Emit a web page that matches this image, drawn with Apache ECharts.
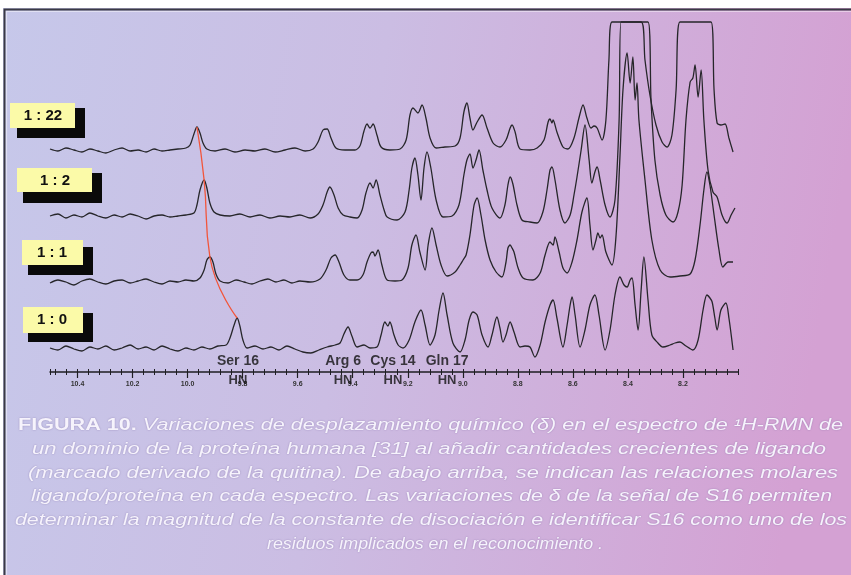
<!DOCTYPE html>
<html><head><meta charset="utf-8">
<script src="https://cdn.jsdelivr.net/npm/echarts@6/dist/echarts.min.js"></script>
<style>html,body{margin:0;padding:0;background:#fff}#c{width:851px;height:575px}</style>
</head><body><div id="c"></div><script>
// ---------- DATA ----------
const ratioLabels = ['1 : 22', '1 : 2', '1 : 1', '1 : 0'];
const baselineOffsets = [222, 156, 91, 24];          // vertical stacking of the spectra
const residues = ['Ser 16', 'Arg 6', 'Cys 14', 'Gln 17'];
const residuePpm = [9.817, 9.435, 9.254, 9.057];
const serPeakPpm = [9.966, 9.940, 9.919, 9.820];
const serPeakHeight = [23, 36, 24, 30];

// [ppm, intensity above own baseline]
const spec_1_22 = [[10.500,1],[10.471,-1],[10.442,2],[10.413,0],[10.384,-2],[10.355,1],[10.326,-1],[10.297,-3],[10.267,0],[10.238,2],[10.209,-1],[10.180,0],[10.151,-2],[10.122,1],[10.093,-1],[10.064,0],[10.035,1],[10.006,2],[9.991,5],[9.977,16],[9.966,23],[9.955,17],[9.944,7],[9.930,1],[9.900,-1],[9.864,1],[9.828,-2],[9.791,0],[9.755,-1],[9.719,1],[9.682,-2],[9.646,0],[9.610,2],[9.573,-1],[9.544,1],[9.526,8],[9.508,20],[9.493,21],[9.479,12],[9.461,2],[9.428,0],[9.392,0],[9.374,4],[9.359,19],[9.348,26],[9.337,22],[9.326,26],[9.312,15],[9.297,3],[9.265,0],[9.228,1],[9.206,10],[9.192,35],[9.181,42],[9.163,37],[9.148,45],[9.134,32],[9.119,12],[9.097,2],[9.065,3],[9.028,4],[9.010,12],[8.996,38],[8.985,47],[8.974,32],[8.963,20],[8.948,28],[8.930,35],[8.912,22],[8.890,7],[8.865,3],[8.843,10],[8.828,22],[8.821,25],[8.810,18],[8.792,1],[8.756,0],[8.730,2],[8.705,10],[8.690,28],[8.683,31],[8.676,27],[8.672,30],[8.658,18],[8.636,3],[8.618,1],[8.596,12],[8.578,32],[8.563,45],[8.549,32],[8.534,22],[8.523,24],[8.512,22],[8.494,10],[8.480,30],[8.469,90],[8.458,128],[8.352,128],[8.338,90],[8.320,55],[8.298,25],[8.276,8],[8.258,3],[8.240,15],[8.225,60],[8.211,128],[8.098,128],[8.087,60],[8.076,27],[8.062,25],[8.047,26],[8.033,12],[8.018,-2]];

const spec_1_2 = [[10.500,0],[10.471,2],[10.442,-2],[10.413,1],[10.384,-1],[10.355,3],[10.326,0],[10.297,-2],[10.267,1],[10.238,-1],[10.209,2],[10.180,0],[10.151,-3],[10.122,0],[10.093,1],[10.064,-1],[10.035,0],[10.006,1],[9.977,3],[9.966,11],[9.955,26],[9.940,36],[9.930,28],[9.919,13],[9.904,4],[9.882,1],[9.846,0],[9.810,2],[9.773,-1],[9.737,1],[9.701,-2],[9.664,0],[9.628,-1],[9.592,1],[9.555,-2],[9.526,2],[9.508,11],[9.493,24],[9.483,29],[9.468,21],[9.453,8],[9.435,1],[9.410,-1],[9.384,-2],[9.366,6],[9.352,23],[9.337,33],[9.326,28],[9.315,36],[9.301,21],[9.286,6],[9.275,-1],[9.239,-4],[9.210,4],[9.195,26],[9.185,48],[9.174,58],[9.163,41],[9.152,16],[9.141,48],[9.130,64],[9.116,48],[9.097,16],[9.072,-1],[9.039,0],[9.014,11],[8.996,41],[8.985,56],[8.974,62],[8.963,48],[8.952,56],[8.941,66],[8.927,46],[8.912,26],[8.894,8],[8.865,-2],[8.847,11],[8.836,31],[8.828,39],[8.818,32],[8.803,11],[8.785,-4],[8.756,-6],[8.730,-7],[8.709,4],[8.694,26],[8.683,46],[8.676,49],[8.665,36],[8.647,6],[8.629,-7],[8.610,1],[8.596,21],[8.585,39],[8.570,66],[8.556,91],[8.541,56],[8.531,33],[8.520,44],[8.512,49],[8.501,36],[8.483,11],[8.465,-1],[8.447,16],[8.432,96],[8.425,194],[8.327,194],[8.316,116],[8.302,56],[8.283,21],[8.262,1],[8.236,-6],[8.218,4],[8.203,31],[8.189,96],[8.174,134],[8.164,138],[8.156,151],[8.145,119],[8.134,146],[8.124,96],[8.109,46],[8.091,24],[8.076,19],[8.058,1],[8.040,-7],[8.025,1],[8.011,8]];

const spec_1_1 = [[10.500,-2],[10.471,1],[10.442,-1],[10.413,-4],[10.384,0],[10.355,2],[10.326,-1],[10.297,-3],[10.267,0],[10.238,1],[10.209,-2],[10.180,0],[10.151,2],[10.122,-1],[10.093,-3],[10.064,0],[10.035,-1],[10.006,1],[9.977,0],[9.955,3],[9.940,11],[9.930,21],[9.919,24],[9.908,19],[9.897,7],[9.882,0],[9.853,-2],[9.824,1],[9.795,-1],[9.766,-3],[9.737,0],[9.708,2],[9.679,-1],[9.650,1],[9.621,-2],[9.592,0],[9.555,-1],[9.519,2],[9.497,11],[9.479,23],[9.464,26],[9.450,19],[9.432,6],[9.410,1],[9.384,1],[9.363,6],[9.348,19],[9.334,28],[9.326,29],[9.319,25],[9.308,31],[9.294,16],[9.275,1],[9.246,0],[9.221,1],[9.199,13],[9.185,36],[9.170,46],[9.156,29],[9.137,11],[9.126,36],[9.112,53],[9.097,36],[9.079,16],[9.057,5],[9.028,9],[9.010,16],[8.999,21],[8.988,26],[8.974,46],[8.959,76],[8.948,83],[8.934,66],[8.919,41],[8.901,21],[8.879,9],[8.858,4],[8.843,19],[8.836,33],[8.828,36],[8.821,33],[8.814,29],[8.799,13],[8.781,3],[8.745,1],[8.719,8],[8.701,26],[8.683,39],[8.672,36],[8.665,44],[8.650,29],[8.636,13],[8.621,8],[8.603,19],[8.585,41],[8.567,69],[8.549,83],[8.538,56],[8.527,31],[8.516,41],[8.509,48],[8.501,43],[8.494,46],[8.480,29],[8.458,16],[8.443,46],[8.429,124],[8.418,191],[8.403,228],[8.392,198],[8.382,224],[8.374,181],[8.367,198],[8.360,161],[8.338,101],[8.313,41],[8.283,11],[8.247,4],[8.211,5],[8.174,7],[8.156,21],[8.138,56],[8.124,91],[8.113,109],[8.102,96],[8.087,66],[8.069,31],[8.055,14],[8.036,19],[8.018,19]];

const spec_1_0 = [[10.500,0],[10.471,-2],[10.442,2],[10.413,-1],[10.384,-3],[10.355,1],[10.326,-1],[10.297,2],[10.267,-2],[10.238,0],[10.209,3],[10.180,-1],[10.151,1],[10.122,-2],[10.093,2],[10.064,-1],[10.035,-3],[10.006,0],[9.977,-2],[9.948,1],[9.919,-1],[9.890,2],[9.860,3],[9.846,10],[9.831,23],[9.820,30],[9.810,22],[9.799,8],[9.784,0],[9.755,2],[9.726,-1],[9.697,1],[9.668,-2],[9.639,2],[9.610,-1],[9.581,-4],[9.552,-5],[9.523,-2],[9.493,1],[9.464,3],[9.446,5],[9.432,14],[9.417,21],[9.403,12],[9.384,1],[9.359,3],[9.337,0],[9.312,1],[9.297,13],[9.283,26],[9.272,22],[9.265,26],[9.250,13],[9.235,3],[9.217,0],[9.195,8],[9.174,26],[9.152,38],[9.137,23],[9.119,3],[9.101,13],[9.086,38],[9.072,55],[9.057,33],[9.036,5],[9.010,-4],[8.992,8],[8.977,28],[8.963,36],[8.948,33],[8.930,13],[8.908,1],[8.894,13],[8.876,31],[8.865,20],[8.854,6],[8.843,13],[8.828,26],[8.814,16],[8.792,1],[8.774,2],[8.756,1],[8.738,-9],[8.719,3],[8.701,26],[8.683,43],[8.672,48],[8.658,30],[8.636,1],[8.621,23],[8.610,43],[8.603,51],[8.592,33],[8.574,1],[8.556,18],[8.538,43],[8.520,53],[8.505,33],[8.483,-2],[8.465,18],[8.447,53],[8.429,71],[8.414,63],[8.403,61],[8.392,68],[8.385,70],[8.374,43],[8.363,18],[8.352,58],[8.342,91],[8.327,48],[8.313,13],[8.291,5],[8.273,1],[8.247,3],[8.229,5],[8.211,6],[8.189,2],[8.164,-2],[8.145,8],[8.127,38],[8.113,53],[8.102,50],[8.094,46],[8.084,30],[8.076,18],[8.062,38],[8.044,45],[8.033,30],[8.018,-2]];

const spectra = [spec_1_22, spec_1_2, spec_1_1, spec_1_0];

const captionLines = [
  'Variaciones de desplazamiento químico (δ) en el espectro de ¹H-RMN de',
  'un dominio de la proteína humana [31] al añadir cantidades crecientes de ligando',
  '(marcado derivado de la quitina). De abajo arriba, se indican las relaciones molares',
  'ligando/proteína en cada espectro. Las variaciones de δ de la señal de S16 permiten',
  'determinar la magnitud de la constante de disociación e identificar S16 como uno de los',
  'residuos implicados en el reconocimiento .'
];
const captionLead = 'FIGURA 10.';

// ---------- LAYOUT ----------
const chart = echarts.init(document.getElementById('c'), null, {renderer: 'canvas'});
const FONT = '"Liberation Sans", Arial, sans-serif';
const mctx = document.createElement('canvas').getContext('2d');
function tw(font, s) { mctx.font = font; return mctx.measureText(s).width; }

const capItal = 'italic 16px ' + FONT;
const capBold = 'bold 16px ' + FONT;
const capLayout = [[18, 843, 426], [32, 826, 450], [28, 838, 474], [31, 832, 497], [15, 847, 521], [267, 603, 545]];
const capFill = '#f6f3fc';
const graphics = [];

graphics.push({type: 'rect', z: -20, silent: true, shape: {x: 0, y: 0, width: 851, height: 575},
  style: {fill: new echarts.graphic.LinearGradient(0, 0, 1, 0.25, [
    {offset: 0, color: '#c6c8ea'}, {offset: 0.45, color: '#cbbde3'}, {offset: 1, color: '#d4a1d3'}])}});
graphics.push({type: 'rect', z: -19, silent: true, shape: {x: 0, y: 0, width: 851, height: 8}, style: {fill: '#ffffff'}});
graphics.push({type: 'rect', z: -19, silent: true, shape: {x: 0, y: 0, width: 3, height: 575}, style: {fill: '#ffffff'}});
graphics.push({type: 'polyline', z: -18, silent: true, shape: {points: [[4.5, 575], [4.5, 9.5], [851, 9.5]]},
  style: {stroke: '#3a3a44', lineWidth: 2, fill: null}});
graphics.push({type: 'polyline', z: -18, silent: true, shape: {points: [[6.5, 575], [6.5, 11.5], [851, 11.5]]},
  style: {stroke: 'rgba(255,255,255,0.45)', lineWidth: 1.2, fill: null}});

// ratio boxes
const boxes = [
  {y: [10, 103, 65, 25], s: [17, 108, 68, 30], t: [43, 116]},
  {y: [17, 168, 75, 24], s: [23, 173, 79, 30], t: [55, 181]},
  {y: [22, 240, 61, 25], s: [28, 247, 65, 28], t: [52, 253]},
  {y: [23, 307, 60, 26], s: [28, 313, 65, 29], t: [52, 320]}
];
boxes.forEach((b, i) => {
  graphics.push({type: 'rect', z: 5, shape: {x: b.s[0], y: b.s[1], width: b.s[2], height: b.s[3]}, style: {fill: '#0a0a0a'}});
  graphics.push({type: 'rect', z: 6, shape: {x: b.y[0], y: b.y[1], width: b.y[2], height: b.y[3]}, style: {fill: '#fbfaa8'}});
  graphics.push({type: 'text', z: 7, x: b.t[0], y: b.t[1], style: {text: ratioLabels[i], font: 'bold 15px ' + FONT,
    fill: '#111', textAlign: 'center', textVerticalAlign: 'middle'}});
});

// caption
captionLines.forEach((line, i) => {
  const [x1, x2, cy] = capLayout[i];
  let w, style;
  if (i === 0) {
    w = tw(capBold, captionLead) + tw(capItal, ' ' + line);
    style = {text: '{b|' + captionLead + '}{i| ' + line + '}', rich: {
      b: {font: capBold, fill: capFill}, i: {font: capItal, fill: capFill}}};
  } else {
    w = tw(capItal, line);
    style = {text: line, font: capItal};
  }
  Object.assign(style, {fill: capFill, textAlign: 'center', textVerticalAlign: 'middle',
    textShadowColor: 'rgba(110,90,150,0.55)', textShadowBlur: 2});
  graphics.push({type: 'text', z: 8, x: (x1 + x2) / 2, y: cy, scaleX: (x2 - x1) / w, style});
});

const traceSeries = spectra.map((sp, i) => ({
  type: 'line', xAxisIndex: 0, yAxisIndex: 0, showSymbol: false, smooth: 0.3, clip: true, z: 3,
  lineStyle: {color: '#26262a', width: 1.3}, silent: true,
  data: sp.map(p => [p[0], baselineOffsets[i] + p[1]])
}));

const option = {
  animation: false,
  grid: {left: 50, right: 113, top: 21, bottom: 203},
  xAxis: [
    {type: 'value', inverse: true, min: 8.0, max: 10.5, interval: 0.2, position: 'bottom',
     axisLine: {show: true, lineStyle: {color: '#1e1e22', width: 1.5}},
     axisTick: {show: true, length: 6, lineStyle: {color: '#1e1e22', width: 1.2}},
     axisLabel: {show: true, fontSize: 7, color: '#333', margin: 9, fontFamily: FONT, fontWeight: 'bold',
       showMinLabel: false, showMaxLabel: false, formatter: v => v.toFixed(1)},
     splitLine: {show: false}},
    {type: 'value', inverse: true, min: 8.0, max: 10.5, interval: 0.04, position: 'bottom',
     axisLine: {show: false}, axisTick: {show: true, length: 3, lineStyle: {color: '#1e1e22', width: 1}},
     axisLabel: {show: false}, splitLine: {show: false}},
    {type: 'value', inverse: true, min: 8.0, max: 10.5, interval: 0.04, position: 'bottom',
     axisLine: {show: false}, axisTick: {show: true, inside: true, length: 3, lineStyle: {color: '#1e1e22', width: 1}},
     axisLabel: {show: false}, splitLine: {show: false}}
  ],
  yAxis: {type: 'value', min: 0, max: 351, show: false},
  graphic: graphics,
  series: [
    ...traceSeries,
    {type: 'line', smooth: 0.5, showSymbol: false, z: 4, silent: true,
     lineStyle: {color: '#f2553a', width: 1.3},
     data: serPeakPpm.map((p, i) => [p, baselineOffsets[i] + serPeakHeight[i]])},
    {type: 'scatter', symbolSize: 0, z: 6, silent: true,
     data: residuePpm.map(p => [p, 1.5]),
     label: {show: true, position: 'inside',
       formatter: pr => '{a|' + residues[pr.dataIndex] + '}\n{b|HN}',
       rich: {a: {fontFamily: FONT, fontWeight: 'bold', fontSize: 14, color: '#111', lineHeight: 19, align: 'center'},
              b: {fontFamily: '"Liberation Sans Narrow", ' + FONT, fontWeight: 'bold', fontSize: 13, color: '#111', lineHeight: 19, align: 'center'}}}}
  ]
};
chart.setOption(option);
</script></body></html>
